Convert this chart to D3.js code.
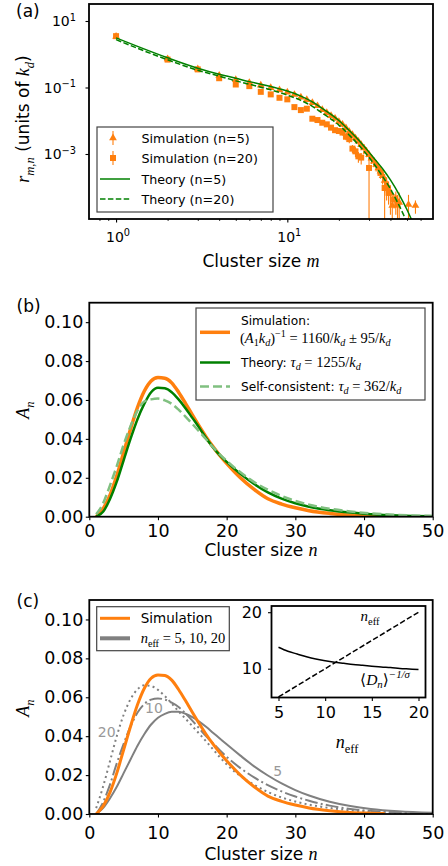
<!DOCTYPE html>
<html>
<head>
<meta charset="utf-8">
<script src="https://cdn.jsdelivr.net/npm/d3@7"></script>
<style>
  body { margin: 0; background: #fff; }
  svg { display: block; }
  text { font-family: "DejaVu Sans", sans-serif; fill: #000; }
</style>
</head>
<body>
<svg id="fig" width="448" height="866"></svg>
<script>
// ---------- Panel (a): fragmentation rates r_{m,n}, log-log ----------
const simM5  = [1,2,3,4,5,6,7,8,9,10,11,12,13,14,15,16,17,18,19,20,21,22,23,24,25,26,27,28,29,30,31,32,33,34,35,36,37,38,39,40,41,43,45,51,56];
const simR5  = [3.4,0.72,0.36,0.23,0.17,0.14,0.116,0.098,0.084,0.072,0.061,0.051,0.043,0.035,0.028,0.0215,0.0175,0.0142,0.0118,0.0094,0.0077,0.0061,0.0047,0.0038,0.0030,0.0024,0.0019,0.0015,0.0012,0.00095,0.00075,0.0006,0.00048,0.00038,0.0003,0.00022,0.00016,0.00012,0.00009,0.000065,0.000028,0.000045,0.000035,0.00003,0.000028];
const simE5  = [0.15,0.03,0.02,0.015,0.01,0.01,0.008,0.007,0.006,0.006,0.005,0.005,0.004,0.004,0.003,0.0025,0.002,0.002,0.0018,0.0015,0.0013,0.0011,0.0009,0.0008,0.0007,0.0006,0.0005,0.0005,0.0004,0.0003,0.00025,0.0002,0.00018,0.00015,0.00012,0.0001,0.00009,0.00008,0.00006,0.00005,0.000027,0.00003,0.000034,0.000029,0.000012];

const simM20 = [1,2,3,4,5,6,7,8,9,10,11,12,13,14,15,16,17,18,19,20,21,22,23,24,25,26,27,30,35,37,39,42,44];
const simR20 = [3.5,0.69,0.35,0.19,0.123,0.11,0.074,0.062,0.049,0.044,0.0257,0.0209,0.023,0.0115,0.0105,0.0087,0.0078,0.0062,0.0052,0.0049,0.0044,0.0033,0.0028,0.00145,0.0012,0.00085,0.00078,0.00038,0.00027,0.000095,0.000068,0.000043,0.00003];
const simE20 = [0.15,0.03,0.02,0.012,0.008,0.008,0.006,0.005,0.004,0.004,0.003,0.003,0.003,0.0015,0.0015,0.0013,0.0012,0.001,0.0009,0.0009,0.0008,0.0007,0.0007,0.0004,0.0004,0.0003,0.0003,0.00037,0.00008,0.000093,0.00003,0.00002,0.000029];

const theoryM   = [1,2,3,4,5,6,7,8,9,10,12,14,16,18,20,23,26,29,32,36,40,45,50,55];
const theoryR5  = [3.1,0.78,0.38,0.25,0.19,0.15,0.126,0.107,0.091,0.078,0.055,0.037,0.0234,0.0155,0.0102,0.0051,0.0027,0.0014,0.00076,0.00036,0.000166,0.00006,0.000021,0.0000071];
const theoryR20 = [2.75,0.68,0.33,0.22,0.158,0.126,0.102,0.085,0.071,0.059,0.041,0.027,0.017,0.0112,0.0074,0.0037,0.0019,0.00098,0.00051,0.00021,0.000089,0.000028,0.0000089,0.0000030];

const aTicksX = [1, 10];
const aTicksXExp = ["0", "1"];
const aMinorX = [0.8,0.9,2,3,4,5,6,7,8,9,20,30,40,50,60];
const aTicksY = [10, 0.1, 0.001];
const aTicksYExp = ["1", "\u22121", "\u22123"];

// ---------- Panels (b) and (c): cluster-size distributions A_n ----------
const simN   = [1,2,3,4,5,6,7,8,9,10,11,12,13,14,15,16,17,18,19,20,22,24,26,28,30,32,35,38,41,43];
const simA   = [0.0,0.004,0.011,0.021,0.033,0.045,0.056,0.0645,0.0698,0.0715,0.0712,0.0688,0.0640,0.0583,0.0523,0.0465,0.0410,0.0360,0.0315,0.0274,0.0200,0.0140,0.0092,0.0065,0.0046,0.0031,0.0017,0.0008,0.0004,0.0002];

const nGrid  = [1,2,3,4,5,6,7,8,9,10,11,12,13,14,15,16,17,18,19,20,22,24,26,28,30,32,35,38,41,45,50];
const theoryA = [0.0,0.0025,0.009,0.018,0.029,0.040,0.050,0.058,0.0640,0.0663,0.0660,0.0640,0.0603,0.0558,0.0508,0.0458,0.0405,0.0357,0.0316,0.0282,0.0220,0.0168,0.0125,0.0093,0.0069,0.0051,0.0033,0.0021,0.0013,0.0006,0.0002];
const selfA   = [0.0012,0.0068,0.016,0.026,0.037,0.0465,0.0545,0.0592,0.0603,0.0607,0.0598,0.0580,0.0550,0.0515,0.0477,0.0438,0.0398,0.0358,0.0320,0.0287,0.0228,0.0178,0.0139,0.0107,0.0081,0.0061,0.0041,0.0027,0.0017,0.0009,0.0004];

const neff5A  = [0.0,0.003,0.008,0.014,0.021,0.028,0.035,0.041,0.046,0.0495,0.0515,0.0525,0.0525,0.0515,0.0498,0.0475,0.0448,0.0418,0.0388,0.0358,0.0300,0.0245,0.0198,0.0157,0.0123,0.0095,0.0063,0.0041,0.0026,0.0014,0.0006];
const neff10A = [0.0,0.006,0.015,0.026,0.036,0.045,0.052,0.0565,0.0588,0.0594,0.0588,0.0572,0.0550,0.0517,0.0480,0.0440,0.0400,0.0364,0.0328,0.0294,0.0236,0.0188,0.0148,0.0116,0.0090,0.0068,0.0043,0.0026,0.0016,0.0008,0.0003];
const neff20A = [0.003,0.014,0.027,0.040,0.051,0.059,0.064,0.0662,0.0658,0.0638,0.0606,0.0568,0.0527,0.0490,0.0452,0.0413,0.0374,0.0333,0.0292,0.0255,0.0195,0.0150,0.0113,0.0085,0.0064,0.0048,0.0031,0.0019,0.0011,0.0005,0.0002];

const nTicks = [0,10,20,30,40,50];
const aTicks = [0,0.02,0.04,0.06,0.08,0.10];

// inset: effective size vs <D_n>^(-1/sigma)
const insetN    = [5,6,7,8,9,10,11,12,13,14,15,16,17,18,19,20];
const insetD    = [13.8,13.1,12.6,12.1,11.7,11.4,11.15,10.95,10.75,10.6,10.45,10.3,10.2,10.05,9.95,9.85];
const diagN     = [5, 20];
const insetTicksX = [5,10,15,20];
const insetTicksY = [10,20];

// ---------- styling ----------
const ORANGE = "#ff7f0e", GREEN = "#008000", LIGHTGREEN = "#80c080", GRAY = "#808080", LABELGRAY = "#999999";
const SERIF = '"Liberation Serif", "DejaVu Serif", serif';

const svg = d3.select("#fig");
const defs = svg.append("defs");
function clipRect(id, box) {
  defs.append("clipPath").attr("id", id).append("rect")
    .attr("x", box.l).attr("y", box.t).attr("width", box.r - box.l).attr("height", box.b - box.t);
  return `url(#${id})`;
}

// mixed sans / math text: segments [text, kind]; kind = s | i | r, optionally prefixed sub- / sup-
// fs: size of sans text, mfs: size of math (serif) text
function rich(textSel, segs, fs, mfs) {
  mfs = mfs || fs;
  let shift = 0;
  segs.forEach(([t, k]) => {
    const sub = k.startsWith("sub"), sup = k.startsWith("sup");
    const base = k.replace(/^(sub|sup)-/, "");
    const size = base === "s" ? fs : mfs;
    const target = sub ? 0.25 * size : sup ? -0.4 * size : 0;
    const ts = textSel.append("tspan").text(t).attr("dy", target - shift)
      .attr("font-size", (sub || sup) ? 0.7 * size : size);
    shift = target;
    if (base === "s") ts.attr("font-family", '"DejaVu Sans", sans-serif');
    else ts.attr("font-family", SERIF).attr("font-style", base === "i" ? "italic" : "normal");
  });
  return textSel;
}

function styleAxis(g, fs) {
  g.select(".domain").remove();
  g.selectAll(".tick line").attr("stroke", "#000").attr("stroke-width", 1.1);
  g.selectAll(".tick text").attr("font-size", fs).attr("font-family", '"DejaVu Sans", sans-serif').attr("fill", "#000");
}
function frame(box, sw) {
  svg.append("rect").attr("x", box.l).attr("y", box.t)
    .attr("width", box.r - box.l).attr("height", box.b - box.t)
    .attr("fill", "none").attr("stroke", "#000").attr("stroke-width", sw || 1.8);
}
function legendBox(x0, y0, x1, y1) {
  svg.append("rect").attr("x", x0).attr("y", y0).attr("width", x1 - x0).attr("height", y1 - y0)
    .attr("fill", "#fff").attr("fill-opacity", 0.9).attr("stroke", "#444").attr("stroke-width", 1.2);
}

// ===================== Panel (a) =====================
const PA = { l: 89, r: 433, t: 4, b: 219 };
const xA = d3.scaleLog().domain([0.695, 70.9]).range([PA.l, PA.r]);
const yA = d3.scaleLog().domain([1.109e-5, 32.43]).range([PA.b, PA.t]);
const gA = svg.append("g").attr("clip-path", clipRect("clipA", PA));

function simSeries(ms, rs, es, symbolType, size) {
  const pts = ms.map((m, i) => ({ m, r: rs[i], e: es[i] }));
  const lo = yA.domain()[0] * 0.3;
  gA.append("g").selectAll("line").data(pts).join("line")
    .attr("x1", d => xA(d.m)).attr("x2", d => xA(d.m))
    .attr("y1", d => yA(Math.max(d.r - d.e, lo))).attr("y2", d => yA(d.r + d.e))
    .attr("stroke", ORANGE).attr("stroke-width", 1.1);
  gA.append("g").selectAll("path").data(pts).join("path")
    .attr("transform", d => `translate(${xA(d.m)},${yA(d.r)})`)
    .attr("d", d3.symbol().type(symbolType).size(size))
    .attr("fill", ORANGE);
}
simSeries(simM5, simR5, simE5, d3.symbolTriangle, 26);
simSeries(simM20, simR20, simE20, d3.symbolSquare, 36);

const lineA = vals => d3.line().x(m => xA(m)).y((m, i) => yA(vals[i])).curve(d3.curveMonotoneX)(theoryM);
gA.append("path").attr("d", lineA(theoryR5)).attr("fill", "none").attr("stroke", GREEN).attr("stroke-width", 1.5);
gA.append("path").attr("d", lineA(theoryR20)).attr("fill", "none").attr("stroke", GREEN).attr("stroke-width", 1.5)
  .attr("stroke-dasharray", "5.5,2.4");

// axes (a)
svg.append("g").attr("transform", `translate(0,${PA.b})`)
  .call(d3.axisBottom(xA).tickValues(aTicksX).tickSize(3.5).tickFormat(""))
  .call(g => styleAxis(g, 14));
svg.append("g").attr("transform", `translate(0,${PA.b})`)
  .call(d3.axisBottom(xA).tickValues(aMinorX).tickSize(2).tickFormat(""))
  .call(g => styleAxis(g, 14)).selectAll(".tick line").attr("stroke-width", 0.8);
svg.append("g").attr("transform", `translate(${PA.l},0)`)
  .call(d3.axisLeft(yA).tickValues(aTicksY).tickSize(3.5).tickFormat(""))
  .call(g => styleAxis(g, 14));
aTicksX.forEach((v, i) => {
  rich(svg.append("text").attr("x", xA(v) + 2).attr("y", 241.5).attr("text-anchor", "middle"),
       [["10", "s"], [aTicksXExp[i], "sup-s"]], 14);
});
aTicksY.forEach((v, i) => {
  rich(svg.append("text").attr("x", 76).attr("y", yA(v) + 5.5).attr("text-anchor", "end"),
       [["10", "s"], [aTicksYExp[i], "sup-s"]], 14);
});
frame(PA);
rich(svg.append("text").attr("x", PA.l + (PA.r - PA.l) / 2).attr("y", 267).attr("text-anchor", "middle"),
     [["Cluster size ", "s"], ["m", "i"]], 17, 18);
rich(svg.append("text").attr("transform", `translate(29,119) rotate(-90)`).attr("text-anchor", "middle"),
     [["r", "i"], ["m,n", "sub-i"], [" (units of ", "s"], ["k", "i"], ["d", "sub-i"], [")", "s"]], 17, 18);
svg.append("text").attr("x", 16).attr("y", 17).attr("font-size", 17).text("(a)");

// legend (a)
legendBox(97, 127, 273, 212);
const legA = [
  { y: 138, kind: "tri", label: "Simulation (n=5)" },
  { y: 158, kind: "sq", label: "Simulation (n=20)" },
  { y: 179, kind: "solid", label: "Theory (n=5)" },
  { y: 199, kind: "dash", label: "Theory (n=20)" }
];
legA.forEach(d => {
  if (d.kind === "tri" || d.kind === "sq") {
    svg.append("line").attr("x1", 113).attr("x2", 113).attr("y1", d.y - 7).attr("y2", d.y + 7)
      .attr("stroke", ORANGE).attr("stroke-width", 1.1);
    svg.append("path").attr("transform", `translate(113,${d.y})`)
      .attr("d", d3.symbol().type(d.kind === "tri" ? d3.symbolTriangle : d3.symbolSquare).size(d.kind === "tri" ? 26 : 36))
      .attr("fill", ORANGE);
  } else {
    svg.append("line").attr("x1", 100).attr("x2", 130).attr("y1", d.y).attr("y2", d.y)
      .attr("stroke", GREEN).attr("stroke-width", 1.5)
      .attr("stroke-dasharray", d.kind === "dash" ? "5.5,2.4" : null);
  }
  svg.append("text").attr("x", 141.5).attr("y", d.y).attr("dy", "0.36em").attr("font-size", 12.7).text(d.label);
});

// ===================== Panel (b) =====================
const PB = { l: 89.3, r: 432.7, t: 302.7, b: 516.7 };
const xB = d3.scaleLinear().domain([0, 50]).range([PB.l, PB.r]);
const yB = d3.scaleLinear().domain([0, 0.11]).range([PB.b, PB.t]);
const gB = svg.append("g").attr("clip-path", clipRect("clipB", PB));
const lineB = (ns, vals) => d3.line().x(n => xB(n)).y((n, i) => yB(vals[i])).curve(d3.curveMonotoneX)(ns);

gB.append("path").attr("d", lineB(simN, simA)).attr("fill", "none").attr("stroke", ORANGE).attr("stroke-width", 3.5);
gB.append("path").attr("d", lineB(nGrid, theoryA)).attr("fill", "none").attr("stroke", GREEN).attr("stroke-width", 2.5);
gB.append("path").attr("d", lineB(nGrid, selfA)).attr("fill", "none").attr("stroke", LIGHTGREEN).attr("stroke-width", 2.5)
  .attr("stroke-dasharray", "9,4");

svg.append("g").attr("transform", `translate(0,${PB.b})`)
  .call(d3.axisBottom(xB).tickValues(nTicks).tickSize(3.5).tickPadding(4.7).tickFormat(d3.format("d")))
  .call(g => styleAxis(g, 17.5));
svg.append("g").attr("transform", `translate(${PB.l},0)`)
  .call(d3.axisLeft(yB).tickValues(aTicks).tickSize(3.5).tickPadding(2.5).tickFormat(d3.format(".2f")))
  .call(g => styleAxis(g, 17.5));
frame(PB);
rich(svg.append("text").attr("x", PB.l + (PB.r - PB.l) / 2).attr("y", 556).attr("text-anchor", "middle"),
     [["Cluster size ", "s"], ["n", "i"]], 17, 18);
rich(svg.append("text").attr("transform", `translate(29,410) rotate(-90)`).attr("text-anchor", "middle"),
     [["A", "i"], ["n", "sub-i"]], 17, 18);
svg.append("text").attr("x", 16.5).attr("y", 312).attr("font-size", 17).text("(b)");

// legend (b)
legendBox(196, 308, 425, 400);
svg.append("line").attr("x1", 200).attr("x2", 230).attr("y1", 332.3).attr("y2", 332.3).attr("stroke", ORANGE).attr("stroke-width", 3.5);
svg.append("line").attr("x1", 200).attr("x2", 230).attr("y1", 362.5).attr("y2", 362.5).attr("stroke", GREEN).attr("stroke-width", 2.5);
svg.append("line").attr("x1", 200).attr("x2", 230).attr("y1", 386.5).attr("y2", 386.5).attr("stroke", LIGHTGREEN).attr("stroke-width", 2.5).attr("stroke-dasharray", "9,4");
svg.append("text").attr("x", 241).attr("y", 321).attr("dy", "0.36em").attr("font-size", 12.2).text("Simulation:");
rich(svg.append("text").attr("x", 240).attr("y", 342.5),
     [["(", "r"], ["A", "i"], ["1", "sub-r"], ["k", "i"], ["d", "sub-i"], [")", "r"], ["\u22121", "sup-r"],
      [" = 1160/", "r"], ["k", "i"], ["d", "sub-i"], [" \u00b1 95/", "r"], ["k", "i"], ["d", "sub-i"]], 14.5);
rich(svg.append("text").attr("x", 241).attr("y", 366.5),
     [["Theory: ", "s"], ["\u03c4", "i"], ["d", "sub-i"], [" = 1255/", "r"], ["k", "i"], ["d", "sub-i"]], 12.2, 14.5);
rich(svg.append("text").attr("x", 241).attr("y", 390.5),
     [["Self-consistent: ", "s"], ["\u03c4", "i"], ["d", "sub-i"], [" = 362/", "r"], ["k", "i"], ["d", "sub-i"]], 12.2, 14.5);

// ===================== Panel (c) =====================
const PC = { l: 89.3, r: 432.7, t: 600, b: 814 };
const xC = d3.scaleLinear().domain([0, 50]).range([PC.l, PC.r]);
const yC = d3.scaleLinear().domain([0, 0.11]).range([PC.b, PC.t]);
const gC = svg.append("g").attr("clip-path", clipRect("clipC", PC));
const lineC = (ns, vals) => d3.line().x(n => xC(n)).y((n, i) => yC(vals[i])).curve(d3.curveMonotoneX)(ns);

gC.append("path").attr("d", lineC(nGrid, neff5A)).attr("fill", "none").attr("stroke", GRAY).attr("stroke-width", 2);
gC.append("path").attr("d", lineC(nGrid, neff10A)).attr("fill", "none").attr("stroke", GRAY).attr("stroke-width", 2)
  .attr("stroke-dasharray", "12.8,3.2,2,3.2");
gC.append("path").attr("d", lineC(nGrid, neff20A)).attr("fill", "none").attr("stroke", GRAY).attr("stroke-width", 2)
  .attr("stroke-dasharray", "2,3.3");
gC.append("path").attr("d", lineC(simN, simA)).attr("fill", "none").attr("stroke", ORANGE).attr("stroke-width", 3);

// curve labels
[["20", 106.7, 731.7], ["10", 154, 708], ["5", 277.7, 770.7]].forEach(([t, x, y]) => {
  svg.append("text").attr("x", x).attr("y", y).attr("dy", "0.35em").attr("text-anchor", "middle")
    .attr("font-family", SERIF).attr("font-size", 14).style("fill", LABELGRAY).text(t);
});

svg.append("g").attr("transform", `translate(0,${PC.b})`)
  .call(d3.axisBottom(xC).tickValues(nTicks).tickSize(3.5).tickPadding(8.7).tickFormat(d3.format("d")))
  .call(g => styleAxis(g, 17.5));
svg.append("g").attr("transform", `translate(${PC.l},0)`)
  .call(d3.axisLeft(yC).tickValues(aTicks).tickSize(3.5).tickPadding(2.5).tickFormat(d3.format(".2f")))
  .call(g => styleAxis(g, 17.5));
frame(PC);
rich(svg.append("text").attr("x", PC.l + (PC.r - PC.l) / 2).attr("y", 860).attr("text-anchor", "middle"),
     [["Cluster size ", "s"], ["n", "i"]], 17, 18);
rich(svg.append("text").attr("transform", `translate(29,708) rotate(-90)`).attr("text-anchor", "middle"),
     [["A", "i"], ["n", "sub-i"]], 17, 18);
svg.append("text").attr("x", 16.5).attr("y", 607).attr("font-size", 17).text("(c)");

// legend (c)
legendBox(96.7, 606.7, 229.3, 650.7);
svg.append("line").attr("x1", 100).attr("x2", 130).attr("y1", 618.3).attr("y2", 618.3).attr("stroke", ORANGE).attr("stroke-width", 3);
svg.append("line").attr("x1", 100).attr("x2", 130).attr("y1", 638.3).attr("y2", 638.3).attr("stroke", GRAY).attr("stroke-width", 4);
svg.append("text").attr("x", 140.7).attr("y", 618.3).attr("dy", "0.36em").attr("font-size", 13.5).text("Simulation");
rich(svg.append("text").attr("x", 140.7).attr("y", 643),
     [["n", "i"], ["eff", "sub-r"], [" = 5, 10, 20", "r"]], 14.5);

// inset
const PI = { l: 271.5, r: 425.5, t: 606, b: 697.5 };
svg.append("rect").attr("x", PI.l).attr("y", PI.t).attr("width", PI.r - PI.l).attr("height", PI.b - PI.t).attr("fill", "#fff");
const xI = d3.scaleLinear().domain([4.25, 20.75]).range([PI.l, PI.r]);
const yI = d3.scaleLinear().domain([4.9, 21.1]).range([PI.b, PI.t]);
const gI = svg.append("g").attr("clip-path", clipRect("clipI", PI));
gI.append("path").attr("d", d3.line().x(n => xI(n)).y((n, i) => yI(insetD[i])).curve(d3.curveMonotoneX)(insetN))
  .attr("fill", "none").attr("stroke", "#000").attr("stroke-width", 1.5);
gI.append("path").attr("d", d3.line().x(n => xI(n)).y(n => yI(n))(diagN))
  .attr("fill", "none").attr("stroke", "#000").attr("stroke-width", 1.5).attr("stroke-dasharray", "5.5,2.4");
svg.append("g").attr("transform", `translate(0,${PI.b})`)
  .call(d3.axisBottom(xI).tickValues(insetTicksX).tickSize(3.5).tickPadding(6).tickFormat(d3.format("d")))
  .call(g => styleAxis(g, 16));
svg.append("g").attr("transform", `translate(${PI.l},0)`)
  .call(d3.axisLeft(yI).tickValues(insetTicksY).tickSize(3.5).tickPadding(6).tickFormat(d3.format("d")))
  .call(g => styleAxis(g, 16));
frame(PI);
rich(svg.append("text").attr("x", 370).attr("y", 621).attr("text-anchor", "middle"),
     [["n", "i"], ["eff", "sub-r"]], 15);
rich(svg.append("text").attr("x", 385).attr("y", 684.5).attr("text-anchor", "middle"),
     [["\u27e8", "r"], ["D", "i"], ["n", "sub-i"], ["\u27e9", "r"], ["\u22121/\u03c3", "sup-i"]], 15.5);
rich(svg.append("text").attr("x", 347).attr("y", 748).attr("text-anchor", "middle"),
     [["n", "i"], ["eff", "sub-r"]], 18);
</script>
</body>
</html>
